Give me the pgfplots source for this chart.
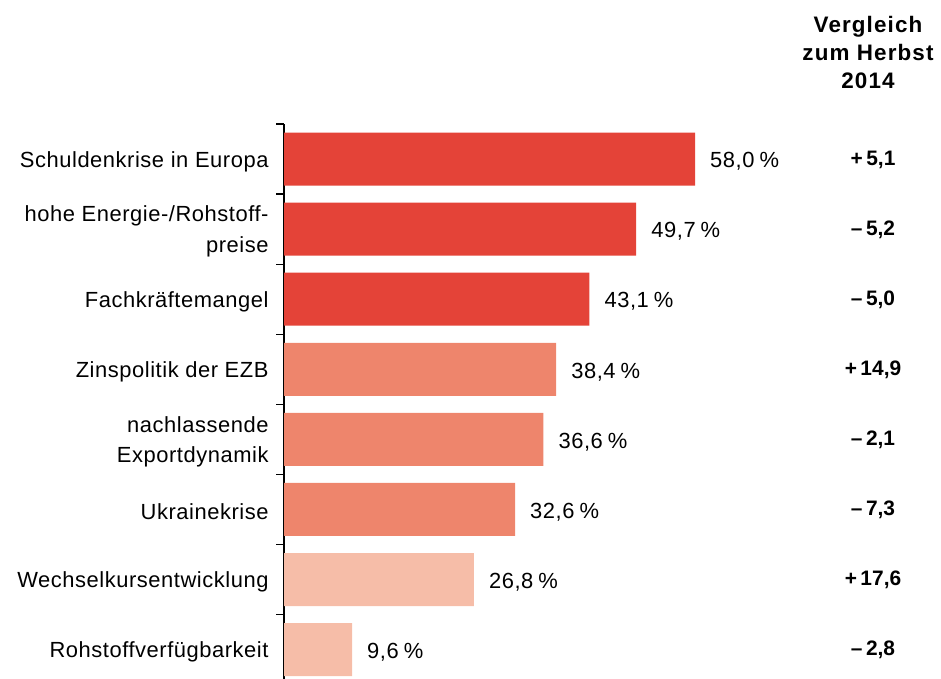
\documentclass[border=0pt]{standalone}
\usepackage{pgfplots}
\pgfplotsset{compat=1.18}
\usepackage{fontspec}
\setmainfont{Liberation Sans}
\newfontfamily\wide{Liberation Sans}[LetterSpace=2.5]
\newfontfamily\widebold{Liberation Sans Bold}[LetterSpace=5]
\definecolor{cdark}{RGB}{228,67,56}
\definecolor{cmid}{RGB}{238,133,108}
\definecolor{clight}{RGB}{246,189,168}
\newcommand{\lf}{\wide\fontsize{22}{31}\selectfont}
\begin{document}
\begin{tikzpicture}[x=1bp,y=1bp]
\useasboundingbox (0,0) rectangle (941,-679);
\begin{axis}[
  at={(284bp,-124bp)}, anchor=north west,
  scale only axis, width=411bp, height=555bp,
  xmin=0, xmax=58, ymin=-0.5, ymax=7.42, y dir=reverse,
  axis x line=none, axis y line*=left,
  axis line style={black, line width=1.5bp},
  ytick={0,...,7},
  yticklabels={Schuldenkrise in Europa,{hohe Energie-/Rohstoff-\\preise},Fachkr\"aftemangel,Zinspolitik der EZB,{nachlassende\\Exportdynamik},Ukrainekrise,Wechselkursentwicklung,Rohstoffverf\"ugbarkeit},
  major tick length=0pt,
  minor ytick={-0.5,0.5,...,6.5},
  minor tick length=8bp, tick align=inside,
  minor tick style={black, line width=1.3bp},
  yticklabel style={align=right, font=\lf, inner sep=0pt, xshift=-15.3bp, yshift=-2.5bp},
  xbar, bar width=53bp, bar shift=0pt,
  nodes near coords, point meta=explicit symbolic,
  nodes near coords style={anchor=west, inner sep=0pt, xshift=15bp, yshift=-2.5bp, font=\lf, text=black},
  clip=false,
]
\addplot[draw=none, fill=cdark] coordinates {(58.0,0) [58,0\hspace{5bp}\%] (49.7,1) [49,7\hspace{5bp}\%] (43.1,2) [43,1\hspace{5bp}\%]};
\addplot[draw=none, fill=cmid] coordinates {(38.4,3) [38,4\hspace{5bp}\%] (36.6,4) [36,6\hspace{5bp}\%] (32.6,5) [32,6\hspace{5bp}\%]};
\addplot[draw=none, fill=clight] coordinates {(26.8,6) [26,8\hspace{5bp}\%] (9.6,7) [9,6\hspace{5bp}\%]};
\end{axis}
\begin{scope}[every node/.style={font=\widebold\fontsize{22.5}{28}\selectfont, anchor=base}]
\node at (868,-33) {Vergleich};
\node at (868,-61) {zum Herbst};
\node at (868,-89) {2014};
\end{scope}
\begin{scope}[every node/.style={font=\fontsize{21}{28}\selectfont\bfseries, anchor=mid}]
\node at (873,-162.5) {+\,5,1};
\node at (873,-232.5) {--\,5,2};
\node at (873,-302.5) {--\,5,0};
\node at (873,-372.5) {+\,14,9};
\node at (873,-442.5) {--\,2,1};
\node at (873,-512.5) {--\,7,3};
\node at (873,-582.5) {+\,17,6};
\node at (873,-652.5) {--\,2,8};
\end{scope}
\end{tikzpicture}
\end{document}
